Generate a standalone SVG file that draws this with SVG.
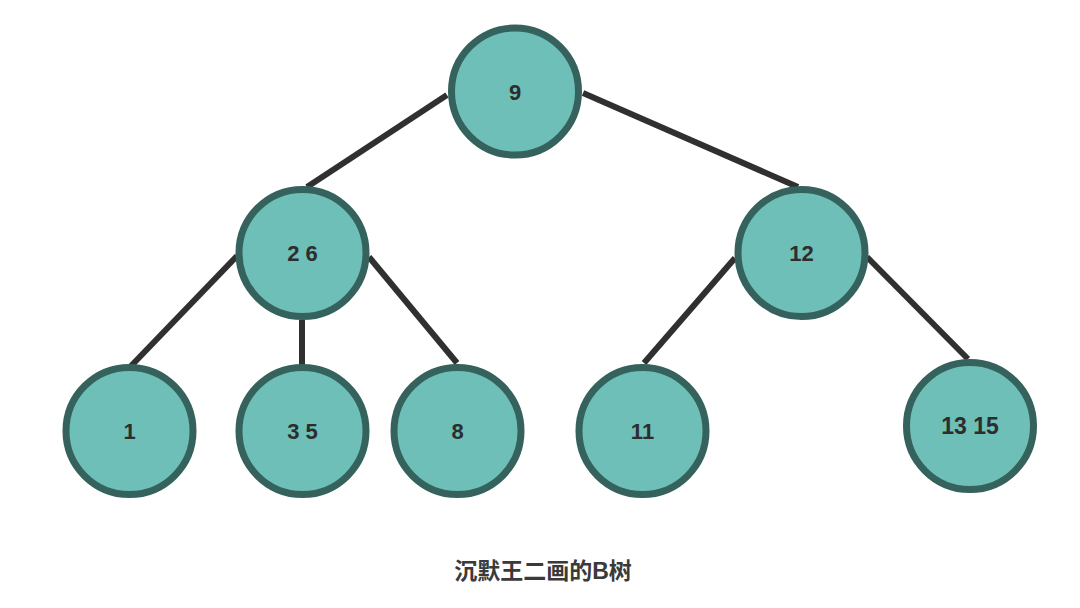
<svg xmlns="http://www.w3.org/2000/svg" width="1080" height="608" viewBox="0 0 1080 608">
<style>
.node circle{fill:#6dbfb8;stroke:#36625d;stroke-width:7}
.node text{font-family:"Liberation Sans",Arial,sans-serif;font-weight:bold;font-size:22px;fill:#2d2d2d;text-anchor:middle}
.edges line{stroke:#303030;stroke-width:6;stroke-linecap:butt}
.caption{font-family:"Liberation Sans","Noto Sans CJK SC",sans-serif;font-weight:bold;font-size:23px;fill:#3a3a3a;text-anchor:middle}
</style>
<rect width="1080" height="608" fill="#ffffff"/>
<g class="edges">
<line x1="447" y1="95" x2="307" y2="187"/>
<line x1="583" y1="93" x2="798" y2="187"/>
<line x1="237" y1="256" x2="131" y2="366"/>
<line x1="302" y1="320" x2="302" y2="366"/>
<line x1="369" y1="257" x2="457" y2="363"/>
<line x1="735" y1="258" x2="644" y2="363"/>
<line x1="867" y1="257" x2="968" y2="359"/>
</g>
<g id="n9" class="node"><circle cx="515" cy="91.5" r="63.5"/><text x="515" y="99.5">9</text></g>
<g id="n2_6" class="node"><circle cx="302.5" cy="253" r="63.5"/><text x="302.5" y="261">2 6</text></g>
<g id="n12" class="node"><circle cx="801.5" cy="253" r="63.5"/><text x="801.5" y="261">12</text></g>
<g id="n1" class="node"><circle cx="129.5" cy="431" r="63.5"/><text x="129.5" y="439">1</text></g>
<g id="n3_5" class="node"><circle cx="302.5" cy="431" r="63.5"/><text x="302.5" y="439">3 5</text></g>
<g id="n8" class="node"><circle cx="457.5" cy="431" r="63.5"/><text x="457.5" y="439">8</text></g>
<g id="n11" class="node"><circle cx="642.5" cy="431" r="63.5"/><text x="642.5" y="439">11</text></g>
<g id="n13_15" class="node"><circle cx="970" cy="426" r="63.5"/><text x="970" y="434" style="font-size:23px">13 15</text></g>
<text class="caption" x="543" y="579">沉默王二画的B树</text>
</svg>
